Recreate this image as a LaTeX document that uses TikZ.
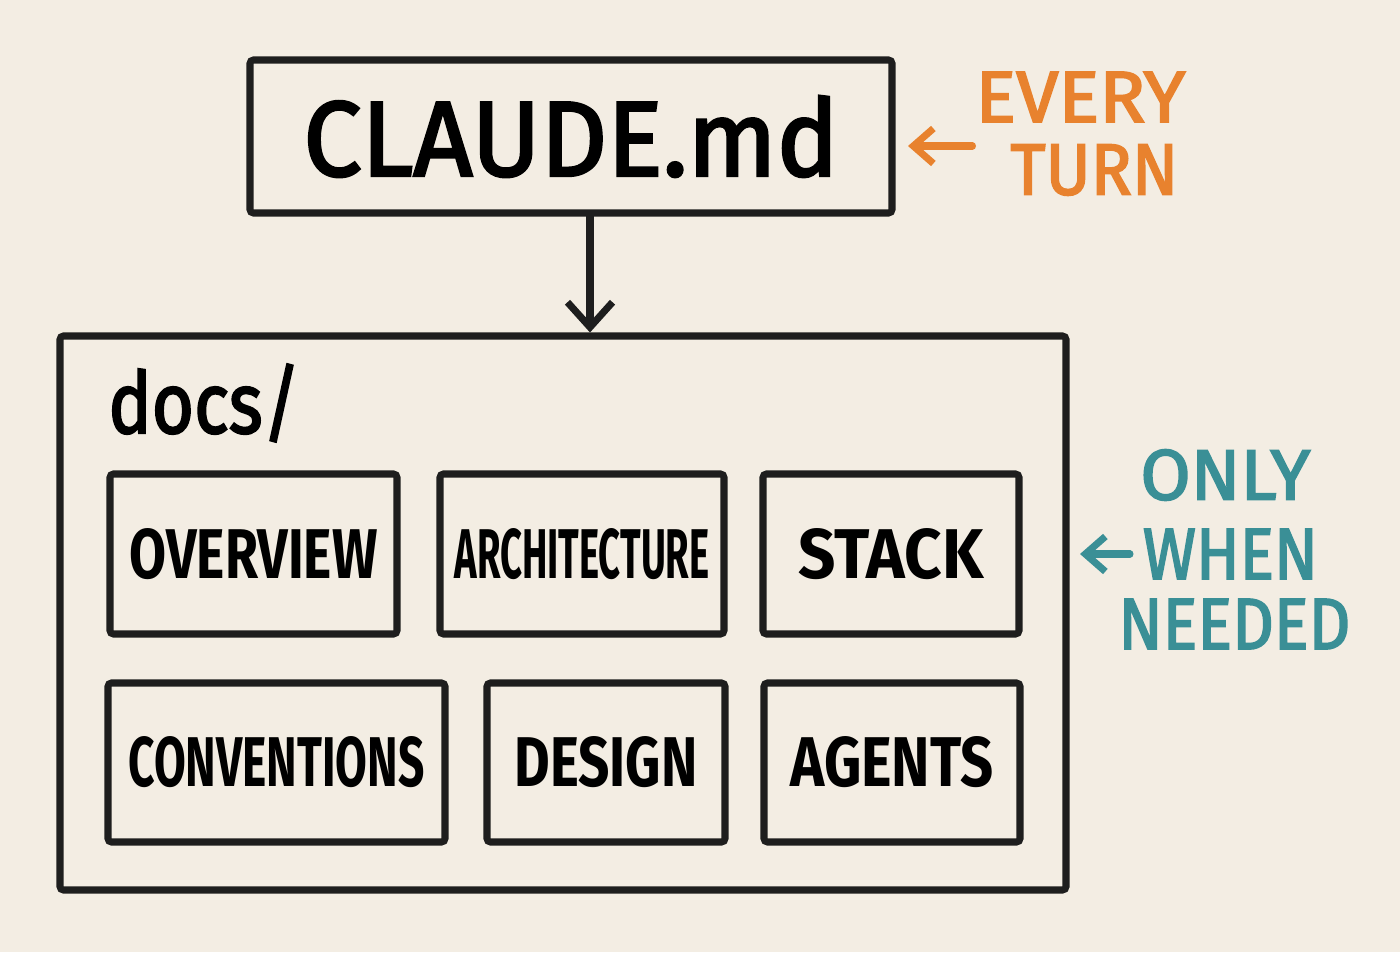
\documentclass[tikz,border=0pt]{standalone}
\usepackage{fontspec}
\setmainfont{Fira Sans}
\newfontfamily\medfont{Fira Sans}[FakeBold=2.5]
\usepackage{graphicx}
\usetikzlibrary{arrows.meta,positioning}
\definecolor{paper}{HTML}{F3EDE3}
\definecolor{ink}{HTML}{1E1E1E}
\definecolor{turnorange}{HTML}{E8822E}
\definecolor{needteal}{HTML}{3A8F96}
\newcommand{\fitlbl}[3]{\resizebox{#1}{#2}{#3}}
\begin{document}
\begin{tikzpicture}[
    box/.style={
        % The shape:
        draw=ink, line width=4pt, rounded corners=2pt,
        inner sep=0pt},
    doc/.style={box, minimum height=3.2cm},
    note/.style={inner sep=0pt, align=center},
    pointer/.style={-{Straight Barb[length=4mm,width=7mm]}, line width=4pt, line cap=round}
  ]
  \fill [paper] (0,0) rectangle (28,19.04);
  \useasboundingbox (0,0) rectangle (28,19.04);
  % top file
  \node (claude) [box, minimum width=12.84cm, minimum height=3.06cm] at (11.42,16.31)
    {\fitlbl{10.7cm}{1.6cm}{\medfont CLAUDE.md}};
  % folder
  \node (docs) [box, minimum width=20.12cm, minimum height=11.08cm] at (11.26,6.78) {};
  \node (docslbl) [note, anchor=west] at (2.16,10.98) {\fitlbl{3.84cm}{1.38cm}{\medfont docs/}};
  \node (overview) [doc, minimum width=5.74cm] at (5.07,7.96) {\fitlbl{4.96cm}{1cm}{\bfseries OVERVIEW}};
  \node (architecture) [doc, minimum width=5.68cm] at (11.64,7.96) {\fitlbl{5.1cm}{1cm}{\bfseries ARCHITECTURE}};
  \node (stack) [doc, minimum width=5.12cm] at (17.82,7.96) {\fitlbl{3.7cm}{1cm}{\bfseries STACK}};
  \node (conventions) [doc, minimum width=6.74cm, minimum height=3.18cm] at (5.53,3.79) {\fitlbl{5.92cm}{1cm}{\bfseries CONVENTIONS}};
  \node (design) [doc, minimum width=4.76cm, minimum height=3.18cm] at (12.12,3.79) {\fitlbl{3.66cm}{1cm}{\bfseries DESIGN}};
  \node (agents) [doc, minimum width=5.12cm, minimum height=3.18cm] at (17.84,3.79) {\fitlbl{4.06cm}{1cm}{\bfseries AGENTS}};
  \draw [pointer, draw=ink, -{Straight Barb[length=5mm,width=9mm]}] (claude.south -| 11.8,0) -- (docs.north -| 11.8,0);
  % side notes
  \node (every) [note, text=turnorange, anchor=west] at (19.5,17.1) {\fitlbl{4.2cm}{1cm}{\medfont EVERY}};
  \node (turn) [note, text=turnorange, anchor=west] at (20.2,15.64) {\fitlbl{3.36cm}{1cm}{\medfont TURN}};
  \coordinate (everytip) at (18.16,16.12);
  \draw [pointer, draw=turnorange] (19.45,16.12) -- (everytip);
  \node (only) [note, text=needteal, anchor=west] at (22.8,9.54) {\fitlbl{3.4cm}{1cm}{\medfont ONLY}};
  \node (when) [note, text=needteal, anchor=west] at (22.85,7.96) {\fitlbl{3.5cm}{1cm}{\medfont WHEN}};
  \node (needed) [note, text=needteal, anchor=west] at (22.36,6.56) {\fitlbl{4.64cm}{1cm}{\medfont NEEDED}};
  \coordinate (onlytip) at (21.6,7.96);
  \draw [pointer, draw=needteal] (22.6,7.96) -- (onlytip);
\end{tikzpicture}
\end{document}
